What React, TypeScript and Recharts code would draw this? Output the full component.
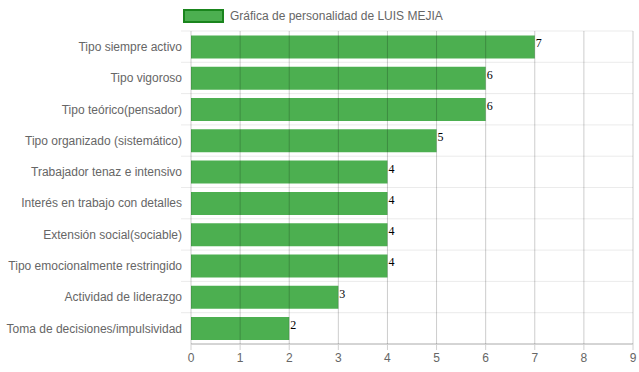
import React from "react";
import { BarChart, Bar, XAxis, YAxis, CartesianGrid, LabelList } from "recharts";

const categories = [
  "Tipo siempre activo",
  "Tipo vigoroso",
  "Tipo teórico(pensador)",
  "Tipo organizado (sistemático)",
  "Trabajador tenaz e intensivo",
  "Interés en trabajo con detalles",
  "Extensión social(sociable)",
  "Tipo emocionalmente restringido",
  "Actividad de liderazgo",
  "Toma de decisiones/impulsividad",
];
const scores = [7, 6, 6, 5, 4, 4, 4, 4, 3, 2];
const xTicks = [0, 1, 2, 3, 4, 5, 6, 7, 8, 9];
const seriesName = "Gráfica de personalidad de LUIS MEJIA";

const data = categories.map((name, i) => ({ name, value: scores[i] }));

const font = '"Liberation Sans", Arial, Helvetica, sans-serif';

function ValueLabel(props: any) {
  const { x, y, width, height, value } = props;
  return (
    <text
      x={x + width + 1}
      y={y + height / 2 + 0.5}
      fill="#000"
      fontSize={12}
      fontFamily='"Liberation Serif", "Times New Roman", serif'
    >
      {value}
    </text>
  );
}

function CategoryTick(props: any) {
  const { x, y, payload } = props;
  return (
    <text x={x} y={y} dy="0.355em" textAnchor="end" fill="#666" fontSize={12} fontFamily={font}>
      {payload.value}
    </text>
  );
}

export default function App() {
  return (
    <div style={{ position: "fixed", left: 0, top: 0, width: 639, height: 372, background: "#fff" }}>
      <div
        style={{
          position: "absolute",
          left: 183,
          top: 9,
          display: "flex",
          alignItems: "center",
          fontFamily: font,
          fontSize: 12,
          color: "#666",
        }}
      >
        <span
          style={{
            display: "inline-block",
            width: 37,
            height: 10,
            background: "#4CAF50",
            border: "2px solid #1a851d",
            marginRight: 6,
          }}
        />
        <span>{seriesName}</span>
      </div>
      <BarChart
        width={639}
        height={372}
        data={data}
        layout="vertical"
        margin={{ top: 31, right: 6, bottom: 0, left: 0 }}
        barCategoryGap="14%"
        style={{ fontFamily: font }}
      >
        <CartesianGrid
          vertical={false}
          horizontalCoordinatesGenerator={({ offset }: any) =>
            Array.from({ length: categories.length }, (_, i) => offset.top + (i * offset.height) / categories.length)
          }
          horizontal={(p: any) => (
            <line key={p.key} x1={p.x1 - 10} x2={p.x2} y1={p.y1} y2={p.y2} stroke="#ebebeb" strokeWidth={1} />
          )}
        />
        <XAxis
          type="number"
          domain={[0, 9]}
          ticks={xTicks}
          interval={0}
          height={28}
          tickSize={6}
          tickMargin={3}
          axisLine={{ stroke: "#aaa" }}
          tickLine={{ stroke: "#d0d0d0" }}
          tick={{ fill: "#666", fontSize: 12 }}
        />
        <YAxis
          type="category"
          dataKey="name"
          width={191}
          axisLine={false}
          tickLine={false}
          tickSize={0}
          tickMargin={9}
          interval={0}
          tick={<CategoryTick />}
        />
        <Bar dataKey="value" fill="#4CAF50" isAnimationActive={false}>
          <LabelList dataKey="value" content={<ValueLabel />} />
        </Bar>
        <CartesianGrid horizontal={false} stroke="rgba(0,0,0,0.2)" zIndex={700} />
      </BarChart>
    </div>
  );
}
